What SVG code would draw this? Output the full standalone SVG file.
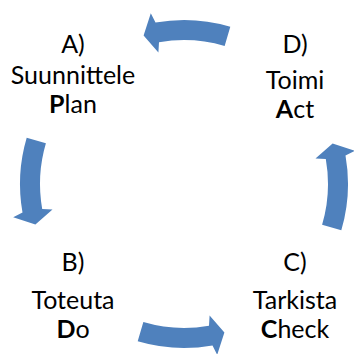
<svg xmlns="http://www.w3.org/2000/svg" xmlns:xlink="http://www.w3.org/1999/xlink" width="354" height="354" viewBox="0 0 354 354">
  <style>
    text { font-family: Lato, "Open Sans", "Liberation Sans", sans-serif; font-size: 25px; fill: #000; text-anchor: middle; }
    .b { font-weight: bold; }
    .arrow { fill: #4F81BD; }
  </style>
  <defs>
    <path id="arc-arrow" class="arrow" d="M 230.3,26.7 A 164 164 0 0 0 155.5,22.5 L 150.8,13.2 L 143.6,35.4 L 158.4,52.5 L 159.0,42.2 A 144 144 0 0 1 224.65,45.9 Z"/>
  </defs>
  <rect width="354" height="354" fill="#fff"/>
  <g id="connectors">
    <use xlink:href="#arc-arrow" href="#arc-arrow"/>
    <use xlink:href="#arc-arrow" href="#arc-arrow" transform="rotate(-90 184 184)"/>
    <use xlink:href="#arc-arrow" href="#arc-arrow" transform="rotate(180 184 184)"/>
    <use xlink:href="#arc-arrow" href="#arc-arrow" transform="rotate(90 184 184)"/>
  </g>
  <g id="node-a">
    <text x="73" y="53">A)</text>
    <text x="73" y="84">Suunnittele</text>
    <text x="73" y="113"><tspan class="b">P</tspan>lan</text>
  </g>
  <g id="node-d">
    <text x="295" y="53">D)</text>
    <text x="295" y="89">Toimi</text>
    <text x="295" y="118"><tspan class="b">A</tspan>ct</text>
  </g>
  <g id="node-b">
    <text x="73" y="271">B)</text>
    <text x="73" y="309">Toteuta</text>
    <text x="73" y="338"><tspan class="b">D</tspan>o</text>
  </g>
  <g id="node-c">
    <text x="295" y="271">C)</text>
    <text x="295" y="309">Tarkista</text>
    <text x="295" y="338"><tspan class="b">C</tspan>heck</text>
  </g>
</svg>
